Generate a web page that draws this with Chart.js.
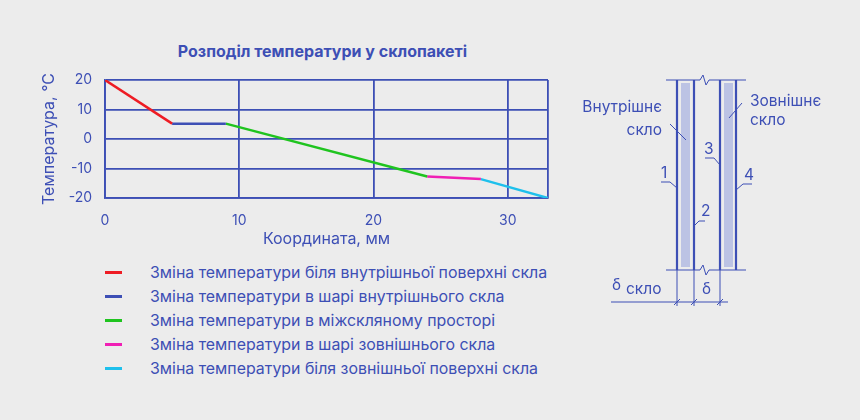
<!DOCTYPE html>
<html>
<head>
<meta charset="utf-8">
<script src="https://cdn.jsdelivr.net/npm/chart.js@4"></script>
<style>
  body { margin: 0; background: #ececec; font-family: Inter, "Noto Sans", sans-serif; color: #3d4fb5; }
  #wrap { position: relative; width: 860px; height: 420px; overflow: hidden; }
  #title { position: absolute; left: 0; width: 645px; top: 41px; text-align: center; font-weight: 700; font-size: 16px; }
  #chartBox { position: absolute; left: 0; top: 0; width: 570px; height: 253px; }
  #legend { position: absolute; left: 105px; top: 260px; font-size: 15.9px; }
  .row { height: 24.2px; display: flex; align-items: center; }
  .sw { width: 17px; height: 3px; margin-right: 28px; }
  svg { position: absolute; left: 0; top: 0; }
  svg text { font-family: Inter, "Noto Sans", sans-serif; font-size: 15.5px; fill: #3d4fb5; }
</style>
</head>
<body>
<div id="wrap">
  <div id="title">Розподіл температури у склопакеті</div>
  <div id="chartBox"><canvas id="c"></canvas></div>
  <div id="legend"></div>
  <svg width="860" height="420">
    <g stroke="#3d4fb5" fill="none">
      <rect x="681" y="83" width="9" height="184" fill="#bcc3e4" stroke="none"/>
      <rect x="724" y="83" width="9" height="184" fill="#bcc3e4" stroke="none"/>
      <g stroke-width="2.2">
        <line x1="677" y1="80" x2="677" y2="270"/>
        <line x1="694" y1="80" x2="694" y2="270"/>
        <line x1="720" y1="80" x2="720" y2="270"/>
        <line x1="736" y1="80" x2="736" y2="270"/>
      </g>
      <g stroke-width="1">
        <polyline points="666,80 700,80 703,75 706,85 709,80 746,80"/>
        <polyline points="666,270 700,270 703,265 706,275 709,270 746,270"/>
        <line x1="677" y1="270" x2="677" y2="306"/>
        <line x1="694" y1="270" x2="694" y2="306"/>
        <line x1="720" y1="270" x2="720" y2="306"/>
        <line x1="611" y1="302" x2="728" y2="302"/>
        <line x1="674" y1="305" x2="680" y2="299"/>
        <line x1="691" y1="305" x2="697" y2="299"/>
        <line x1="717" y1="305" x2="723" y2="299"/>
        <line x1="670" y1="124" x2="686" y2="140"/>
        <line x1="742" y1="103" x2="729" y2="118"/>
        <line x1="661" y1="182" x2="670" y2="182"/><line x1="670" y1="182" x2="677" y2="188"/>
        <line x1="705" y1="221" x2="699" y2="221"/><line x1="699" y1="221" x2="694" y2="226"/>
        <line x1="705" y1="158" x2="714" y2="158"/><line x1="714" y1="158" x2="720" y2="165"/>
        <line x1="752" y1="184" x2="743" y2="184"/><line x1="743" y1="184" x2="736" y2="190"/>
      </g>
    </g>
    <text x="662" y="112" text-anchor="end">Внутрішнє</text>
    <text x="662" y="135" text-anchor="end">скло</text>
    <text x="750" y="106">Зовнішнє</text>
    <text x="750" y="125">скло</text>
    <text x="661" y="178">1</text>
    <text x="701" y="216">2</text>
    <text x="704" y="154">3</text>
    <text x="744" y="180">4</text>
    <text x="612" y="290" font-size="17">δ</text>
    <text x="626" y="294">скло</text>
    <text x="702" y="294" font-size="17">δ</text>
  </svg>
</div>
<script>
const seriesNames = [
  "Зміна температури біля внутрішньої поверхні скла",
  "Зміна температури в шарі внутрішнього скла",
  "Зміна температури в міжскляному просторі",
  "Зміна температури в шарі зовнішнього скла",
  "Зміна температури біля зовнішньої поверхні скла"
];
const seriesColors = ["#ee1c24", "#3d4fb5", "#1fc41f", "#f01fb4", "#1ec0ec"];
const coordX = [0, 5, 9, 24, 28, 33];
const tempY = [20, 5.2, 5.2, -12.7, -13.6, -20];

const textColor = "#3d4fb5";
const gridColor = "#3d4fb5";

const datasets = seriesNames.map((name, i) => ({
  label: name,
  data: [{ x: coordX[i], y: tempY[i] }, { x: coordX[i + 1], y: tempY[i + 1] }],
  borderColor: seriesColors[i],
  borderWidth: 2.5,
  pointRadius: 0,
  fill: false
}));

// legend as html
const legend = document.getElementById("legend");
seriesNames.forEach((name, i) => {
  const row = document.createElement("div");
  row.className = "row";
  row.innerHTML = `<span class="sw" style="background:${seriesColors[i]}"></span>${name}`;
  legend.appendChild(row);
});

new Chart(document.getElementById("c"), {
  type: "line",
  data: { datasets },
  options: {
    responsive: true,
    maintainAspectRatio: false,
    animation: false,
    layout: { padding: { top: 80, right: 22, left: 36, bottom: 0 } },
    plugins: { legend: { display: false }, tooltip: { enabled: false } },
    scales: {
      x: {
        type: "linear", min: 0, max: 33,
        afterBuildTicks: s => { s.ticks = [0, 10, 20, 30, 33].map(v => ({ value: v })); },
        afterFit: s => { s.height = 55; },
        ticks: { color: textColor, font: { family: "Inter", size: 14 }, padding: 14,
          callback: v => (v === 33 ? "" : v) },
        grid: { color: gridColor, lineWidth: 1.8, drawTicks: false },
        border: { color: gridColor, width: 1.8 },
        title: { display: true, text: "Координата, мм", color: textColor,
          font: { family: "Inter", size: 16 }, padding: { top: 0 } }
      },
      y: {
        min: -20, max: 20,
        ticks: { stepSize: 10, color: textColor, font: { family: "Inter", size: 14 }, padding: 13 },
        afterFit: s => { s.width = 69; },
        grid: { color: gridColor, lineWidth: 1.8, drawTicks: false },
        border: { color: gridColor, width: 1.8 },
        title: { display: true, text: "Температура, °C", color: textColor,
          font: { family: "Inter", size: 16 }, padding: { bottom: 0 } }
      }
    }
  }
});
</script>
</body>
</html>
